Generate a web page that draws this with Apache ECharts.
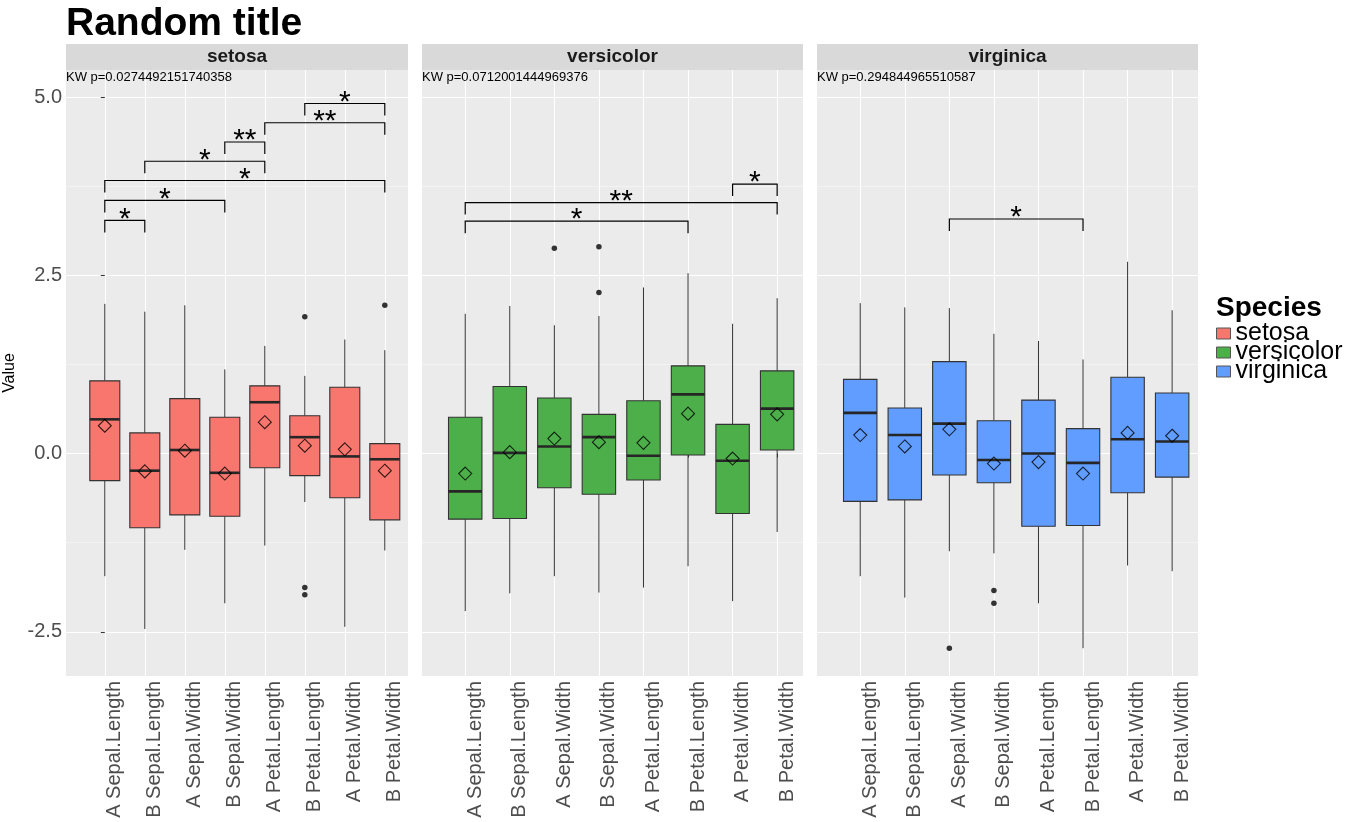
<!DOCTYPE html>
<html>
<head>
<meta charset="utf-8">
<script src="https://cdn.jsdelivr.net/npm/echarts@6/dist/echarts.min.js"></script>
<style>html,body{margin:0;padding:0;background:#fff}#chart{width:1350px;height:822px}</style>
</head>
<body>
<div id="chart"></div>
<script>
// ---------- data ----------
const categories = ['A Sepal.Length','B Sepal.Length','A Sepal.Width','B Sepal.Width','A Petal.Length','B Petal.Length','A Petal.Width','B Petal.Width'];
const species = ['setosa','versicolor','virginica'];
const speciesColors = ['#F8766D','#4DAF4A','#619CFF'];
const kwLabels = ['KW p=0.0274492151740358','KW p=0.0712001444969376','KW p=0.294844965510587'];
const yTicks = [-2.5, 0, 2.5, 5];
const yTickLabels = ['-2.5','0.0','2.5','5.0'];
const yMinorTicks = [-1.25, 1.25, 3.75];

// box stats per category: [lower whisker, Q1, median, Q3, upper whisker]
const setosaBox = [
  [-1.72,-0.38, 0.48,1.02,2.10],
  [-2.46,-1.04,-0.24,0.29,1.99],
  [-1.35,-0.86, 0.05,0.77,2.08],
  [-2.10,-0.88,-0.27,0.51,1.18],
  [-1.29,-0.20, 0.72,0.95,1.51],
  [-0.68,-0.31, 0.23,0.53,1.09],
  [-2.43,-0.62,-0.04,0.93,1.60],
  [-1.36,-0.93,-0.08,0.14,1.45]
];
const setosaMean = [0.39,-0.25,0.04,-0.28,0.44,0.11,0.06,-0.24];
const setosaOutliers = [[5,1.92],[5,-1.88],[5,-1.98],[7,2.08]];
const setosaBrackets = [[0,1,3.27,'*'],[0,3,3.55,'*'],[0,7,3.83,'*'],[1,4,4.10,'*'],[3,4,4.37,'**'],[4,7,4.64,'**'],[5,7,4.91,'*']];

const versicolorBox = [
  [-2.21,-0.92,-0.53,0.51,1.96],
  [-1.96,-0.91, 0.01,0.94,2.07],
  [-1.72,-0.48, 0.10,0.78,1.80],
  [-1.95,-0.57, 0.23,0.55,1.93],
  [-1.88,-0.37,-0.03,0.74,2.33],
  [-1.58,-0.02, 0.83,1.23,2.53],
  [-2.07,-0.84,-0.10,0.41,1.82],
  [-1.10, 0.05, 0.63,1.16,2.18]
];
const versicolorMean = [-0.28,0.02,0.21,0.16,0.15,0.56,-0.07,0.55];
const versicolorOutliers = [[2,2.88],[3,2.26],[3,2.90]];
const versicolorBrackets = [[0,5,3.26,'*'],[0,7,3.52,'**'],[6,7,3.78,'*']];

const virginicaBox = [
  [-1.72,-0.67, 0.57,1.04,2.11],
  [-2.02,-0.65, 0.26,0.64,2.05],
  [-1.37,-0.30, 0.42,1.29,2.04],
  [-1.40,-0.41,-0.09,0.46,1.68],
  [-2.10,-1.02, 0.00,0.75,1.58],
  [-2.73,-1.01,-0.13,0.35,1.32],
  [-1.57,-0.55, 0.20,1.07,2.69],
  [-1.65,-0.33, 0.17,0.85,2.01]
];
const virginicaMean = [0.26,0.10,0.34,-0.14,-0.12,-0.28,0.29,0.25];
const virginicaOutliers = [[2,-2.73],[3,-1.92],[3,-2.10]];
const virginicaBrackets = [[2,5,3.29,'*']];

// ---------- layout ----------
const FONT = '"Liberation Sans", Arial, Helvetica, sans-serif';
const panels = [{left:66,width:342},{left:422,width:381},{left:817,width:381}];
const PANEL_TOP = 70, PANEL_H = 606, STRIP_H = 26;
const Y_MIN = -3.12, Y_MAX = 5.38;
const X_MIN = -0.97, X_MAX = 7.58;
const catIdx = categories.map((c,i)=>i);

const boxes = [setosaBox, versicolorBox, virginicaBox];
const means = [setosaMean, versicolorMean, virginicaMean];
const outliers = [setosaOutliers, versicolorOutliers, virginicaOutliers];
const brackets = [setosaBrackets, versicolorBrackets, virginicaBrackets];

function renderBox(params, api) {
  const x = api.value(0);
  const half = api.size([0.75, 0])[0] / 2;
  const pLo = api.coord([x, api.value(1)]);
  const pQ1 = api.coord([x, api.value(2)]);
  const pMed = api.coord([x, api.value(3)]);
  const pQ3 = api.coord([x, api.value(4)]);
  const pHi = api.coord([x, api.value(5)]);
  const stroke = '#333333';
  return {type:'group', children:[
    {type:'line', shape:{x1:pHi[0],y1:pHi[1],x2:pQ3[0],y2:pQ3[1]}, style:{stroke:stroke,lineWidth:1}},
    {type:'line', shape:{x1:pQ1[0],y1:pQ1[1],x2:pLo[0],y2:pLo[1]}, style:{stroke:stroke,lineWidth:1}},
    {type:'rect', shape:{x:pQ3[0]-half,y:pQ3[1],width:half*2,height:pQ1[1]-pQ3[1]}, style:{fill:api.visual('color'),stroke:stroke,lineWidth:1.1}},
    {type:'line', shape:{x1:pMed[0]-half,y1:pMed[1],x2:pMed[0]+half,y2:pMed[1]}, style:{stroke:'#262626',lineWidth:2.6}}
  ]};
}

function makeBracketRenderer(list) {
  return function(params, api) {
    const p1 = api.coord([api.value(0), api.value(2)]);
    const p2 = api.coord([api.value(1), api.value(2)]);
    const tip = 12;
    return {type:'group', children:[
      {type:'polyline', shape:{points:[[p1[0],p1[1]+tip],[p1[0],p1[1]],[p2[0],p2[1]],[p2[0],p2[1]+tip]]},
       style:{stroke:'#000',lineWidth:1.2,fill:null}},
      {type:'text', x:(p1[0]+p2[0])/2, y:p1[1]-1,
       style:{text:list[params.dataIndex][3], font:'30px ' + FONT, fill:'#000', textAlign:'center', textVerticalAlign:'middle'}}
    ]};
  };
}

const grids = [], xAxes = [], yAxes = [], series = [], graphics = [];
panels.forEach((p, i) => {
  grids.push({left:p.left, top:PANEL_TOP, width:p.width, height:PANEL_H, show:true, backgroundColor:'#EBEBEB', borderWidth:0});
  xAxes.push({
    type:'value', gridIndex:i, min:X_MIN, max:X_MAX,
    axisLine:{show:false},
    axisTick:{show:true, customValues:catIdx, length:4, lineStyle:{color:'#333333'}},
    axisLabel:{customValues:catIdx, formatter:v=>categories[Math.round(v)], rotate:90, verticalAlign:'top',
               fontSize:20, color:'#4D4D4D', margin:5, fontFamily:FONT, padding:[0,0,0,0]},
    splitLine:{show:true, lineStyle:{color:'#FFFFFF', width:1.1}}
  });
  yAxes.push({
    type:'value', gridIndex:i, min:Y_MIN, max:Y_MAX,
    name: i === 0 ? 'Value' : '', nameLocation:'middle', nameGap:48, nameRotate:90,
    nameTextStyle:{fontSize:16, color:'#000', fontFamily:FONT},
    axisLine:{show:false},
    axisTick:{show:i===0, customValues:yTicks, length:4, lineStyle:{color:'#333333'}},
    axisLabel:{show:i===0, customValues:yTicks, formatter:v=>yTickLabels[yTicks.indexOf(v)] ?? String(v), fontSize:20, color:'#4D4D4D', margin:4, fontFamily:FONT},
    splitLine:{show:true, lineStyle:{color:'#FFFFFF', width:1.1}}
  });
  yAxes.push({
    type:'value', gridIndex:i, min:Y_MIN, max:Y_MAX, position:'left',
    axisLine:{show:false},
    axisTick:{show:false, customValues:yMinorTicks},
    axisLabel:{show:false},
    splitLine:{show:true, lineStyle:{color:'#F8F8F8', width:0.6}}
  });

  series.push({
    type:'custom', name:species[i], xAxisIndex:i, yAxisIndex:i*2,
    itemStyle:{color:speciesColors[i], borderColor:'#333333'},
    encode:{x:0, y:[1,2,3,4,5]},
    data: boxes[i].map((b, k) => [k].concat(b)),
    renderItem: renderBox, z:2
  });
  series.push({
    type:'scatter', xAxisIndex:i, yAxisIndex:i*2, symbol:'circle', symbolSize:5.5,
    itemStyle:{color:'#333333', opacity:1}, data: outliers[i], z:3, silent:true
  });
  series.push({
    type:'scatter', xAxisIndex:i, yAxisIndex:i*2, symbol:'diamond', symbolSize:13,
    itemStyle:{color:'rgba(0,0,0,0)', borderColor:'#000', borderWidth:1.1}, data: means[i].map((m,k)=>[k,m]), z:4, silent:true
  });
  series.push({
    type:'custom', xAxisIndex:i, yAxisIndex:i*2, encode:{x:[0,1], y:2},
    data: brackets[i].map(b => [b[0], b[1], b[2]]),
    renderItem: makeBracketRenderer(brackets[i]), z:5, silent:true
  });

  graphics.push({type:'rect', x:p.left, y:PANEL_TOP-STRIP_H, shape:{x:0,y:0,width:p.width,height:STRIP_H}, style:{fill:'#D9D9D9'}});
  graphics.push({type:'text', x:p.left + p.width/2, y:PANEL_TOP-STRIP_H/2,
    style:{text:species[i], font:'bold 19px ' + FONT, fill:'#1A1A1A', textAlign:'center', textVerticalAlign:'middle'}});
  graphics.push({type:'text', x:p.left, y:PANEL_TOP+7, z:10,
    style:{text:kwLabels[i], font:'13px ' + FONT, fill:'#000', textAlign:'left', textVerticalAlign:'middle'}});
});

const chart = echarts.init(document.getElementById('chart'), null, {renderer:'canvas'});
chart.setOption({
  backgroundColor:'#FFFFFF',
  animation:false,
  textStyle:{fontFamily:FONT},
  title:[
    {text:'Random title', left:61, top:0, textStyle:{fontSize:39, fontWeight:'bold', color:'#000', fontFamily:FONT}},
    {text:'Species', left:1211, top:289, textStyle:{fontSize:28, fontWeight:'bold', color:'#000', fontFamily:FONT}}
  ],
  legend:{
    data:species, orient:'vertical', left:1211, top:316, selectedMode:false,
    icon:'rect', itemWidth:14, itemHeight:11, itemGap:-6,
    itemStyle:{borderColor:'#555555', borderWidth:1},
    textStyle:{fontSize:25, color:'#000', fontFamily:FONT}
  },
  grid:grids, xAxis:xAxes, yAxis:yAxes, series:series,
  graphic:graphics
});
</script>
</body>
</html>
